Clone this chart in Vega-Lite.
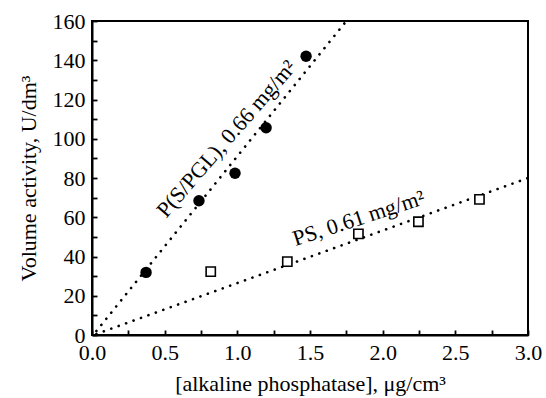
{
  "$schema": "https://vega.github.io/schema/vega-lite/v6.json",
  "width": 436,
  "height": 314,
  "autosize": "none",
  "padding": {"left": 92, "top": 21, "right": 18, "bottom": 63},
  "background": "white",
  "config": {
    "font": "Liberation Serif",
    "view": {"stroke": "black", "strokeWidth": 2},
    "axis": {
      "domainColor": "black",
      "domainWidth": 2,
      "tickColor": "black",
      "tickWidth": 1.8,
      "tickSize": -5,
      "labelFont": "Liberation Serif",
      "labelFontSize": 22,
      "labelColor": "black",
      "titleFont": "Liberation Serif",
      "titleFontSize": 22,
      "titleFontWeight": "normal",
      "titleColor": "black",
      "grid": false,
      "labelOverlap": false,
      "labelFlush": false,
      "labelBound": false
    }
  },
  "datasets": {
    "pgl": [
      {"conc": 0.372, "activity": 31.9},
      {"conc": 0.736, "activity": 68.4},
      {"conc": 0.984, "activity": 82.4},
      {"conc": 1.198, "activity": 105.6},
      {"conc": 1.473, "activity": 142.0}
    ],
    "ps": [
      {"conc": 0.817, "activity": 32.3},
      {"conc": 1.344, "activity": 37.4},
      {"conc": 1.833, "activity": 51.5},
      {"conc": 2.246, "activity": 57.7},
      {"conc": 2.666, "activity": 69.1}
    ],
    "fit": [
      {"series": "P(S/PGL)", "conc": 0.03, "activity": 2},
      {"series": "P(S/PGL)", "conc": 1.75, "activity": 160},
      {"series": "PS", "conc": 0.03, "activity": 0.5},
      {"series": "PS", "conc": 3.0, "activity": 80}
    ],
    "labels": [
      {"id": "pgl", "conc": 0.925, "activity": 100, "text": "P(S/PGL), 0.66 mg/m²"},
      {"id": "ps", "conc": 1.835, "activity": 59.5, "text": "PS, 0.61 mg/m²"}
    ]
  },
  "encoding": {
    "x": {
      "field": "conc", "type": "quantitative",
      "scale": {"domain": [0, 3], "nice": false},
      "axis": {
        "title": "[alkaline phosphatase], μg/cm³",
        "values": [0, 0.25, 0.5, 0.75, 1, 1.25, 1.5, 1.75, 2, 2.25, 2.5, 2.75, 3],
        "labelExpr": "datum.value % 0.5 === 0 ? format(datum.value, '.1f') : ''",
        "labelOverlap": false,
        "labelSeparation": 0,
        "labelPadding": 12,
        "titlePadding": 10
      }
    },
    "y": {
      "field": "activity", "type": "quantitative",
      "scale": {"domain": [0, 160], "nice": false},
      "axis": {
        "title": "Volume activity, U/dm³",
        "values": [0, 10, 20, 30, 40, 50, 60, 70, 80, 90, 100, 110, 120, 130, 140, 150, 160],
        "labelExpr": "datum.value % 20 === 0 ? format(datum.value, 'd') : ''",
        "labelOverlap": false,
        "labelSeparation": 0,
        "labelPadding": 12,
        "titlePadding": 12
      }
    }
  },
  "layer": [
    {
      "data": {"name": "fit"},
      "mark": {"type": "line", "color": "black", "strokeWidth": 2.6, "strokeDash": [0.1, 7.8], "strokeCap": "round", "clip": true},
      "encoding": {
        "detail": {"field": "series"}
      }
    },
    {
      "data": {"name": "pgl"},
      "mark": {"type": "point", "shape": "circle", "filled": true, "color": "black", "size": 130, "opacity": 1}
    },
    {
      "data": {"name": "ps"},
      "mark": {"type": "point", "shape": "square", "fill": "white", "stroke": "black", "strokeWidth": 1.6, "size": 85, "opacity": 1, "fillOpacity": 1}
    },
    {
      "data": {"name": "labels"},
      "transform": [{"filter": "datum.id === 'pgl'"}],
      "mark": {"type": "text", "font": "Liberation Serif", "fontSize": 22, "align": "center", "baseline": "middle", "angle": 311, "color": "black"},
      "encoding": {
        "text": {"field": "text"}
      }
    },
    {
      "data": {"name": "labels"},
      "transform": [{"filter": "datum.id === 'ps'"}],
      "mark": {"type": "text", "font": "Liberation Serif", "fontSize": 22, "align": "center", "baseline": "middle", "angle": 342, "color": "black"},
      "encoding": {
        "text": {"field": "text"}
      }
    }
  ]
}
